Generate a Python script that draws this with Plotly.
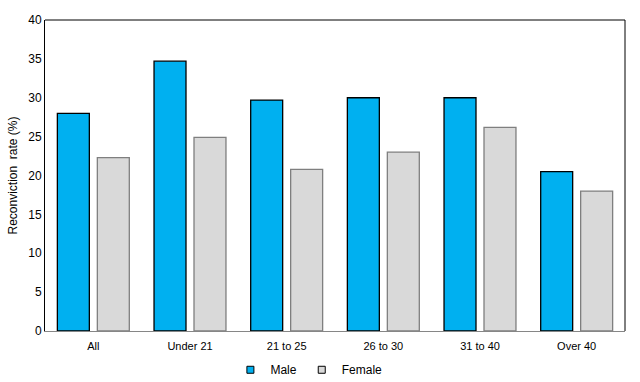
import plotly.graph_objects as go

categories = ["All", "Under 21", "21 to 25", "26 to 30", "31 to 40", "Over 40"]
male = [28.0, 34.7, 29.7, 30.0, 30.0, 20.5]
female = [22.3, 24.9, 20.8, 23.0, 26.2, 18.0]
y_ticks = [0, 5, 10, 15, 20, 25, 30, 35, 40]

male_color = "#00B0F0"
female_color = "#D9D9D9"

fig = go.Figure()
fig.add_trace(go.Bar(x=categories, y=male, name="Male", showlegend=False,
                     marker=dict(color=male_color, line=dict(color="#000000", width=1.3))))
fig.add_trace(go.Bar(x=categories, y=female, name="Female", showlegend=False,
                     marker=dict(color=female_color, line=dict(color="#7F7F7F", width=1.3))))
# legend entries with small square swatches
fig.add_trace(go.Scatter(x=[None], y=[None], mode="markers", name="Male",
                         marker=dict(symbol="square", size=7, color=male_color,
                                     line=dict(color="#000000", width=1))))
fig.add_trace(go.Scatter(x=[None], y=[None], mode="markers", name="Female",
                         marker=dict(symbol="square", size=7, color=female_color,
                                     line=dict(color="#000000", width=1))))

fig.update_layout(
    width=640, height=382,
    margin=dict(l=45, r=15, t=20, b=51, autoexpand=False),
    plot_bgcolor="white", paper_bgcolor="white",
    font=dict(family="Liberation Sans, Arial, sans-serif", size=12, color="#000000"),
    barmode="group", bargap=0.173, bargroupgap=0.2,
    showlegend=True,
    legend=dict(orientation="h", x=0.455, xanchor="center",
                yref="container", y=0.032, yanchor="middle",
                font=dict(size=12), itemwidth=30, traceorder="normal",
                tracegroupgap=0, itemclick=False, borderwidth=0, bgcolor="rgba(0,0,0,0)"),
    xaxis=dict(showline=True, linecolor="#868686", linewidth=1, mirror=False,
               ticks="", tickfont=dict(size=11), showgrid=False, ticklabelstandoff=5),
    yaxis=dict(range=[0, 40], tickvals=y_ticks, showgrid=False, zeroline=False,
               showline=True, linecolor="#000000", linewidth=1, ticks="",
               tickfont=dict(size=12),
               title=dict(text="Reconviction  rate (%)", font=dict(size=12), standoff=8)),
)
# Frame on top and right
fig.add_shape(type="line", xref="paper", yref="paper", x0=0, x1=1, y0=1, y1=1,
              line=dict(color="#000000", width=1))
fig.add_shape(type="line", xref="paper", yref="paper", x0=1, x1=1, y0=0, y1=1,
              line=dict(color="#000000", width=1))

fig.write_html("out.html")
